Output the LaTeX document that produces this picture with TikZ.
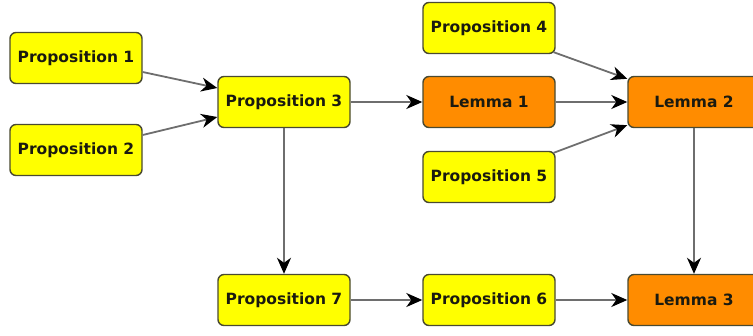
\documentclass[tikz,border=0pt]{standalone}
\usepackage{fontspec}
\setmainfont{DejaVu Sans}
\usetikzlibrary{arrows.meta}
\definecolor{propyellow}{HTML}{FFFF00}
\definecolor{lemorange}{HTML}{FF8C00}
\definecolor{boxborder}{HTML}{4A4A30}
\definecolor{linegray}{HTML}{6E6E6E}
\definecolor{txt}{HTML}{1A1A10}
\tikzset{
  box/.style={draw=boxborder, line width=1.4pt, rounded corners=6pt,
    minimum width=132pt, minimum height=51pt, inner sep=0pt,
    font=\fontsize{15.5}{18}\selectfont\bfseries, text=txt},
  prop/.style={box, fill=propyellow},
  lem/.style={box, fill=lemorange},
  conn/.style={draw=linegray, line width=1.8pt,
    -{Stealth[length=16pt,width=14pt,inset=5pt,black]}}
}
\begin{document}
\begin{tikzpicture}[x=1pt,y=-1pt]
\useasboundingbox (0,0) rectangle (753,335);
\clip (0,0) rectangle (753,335);
\node[prop] (p1) at (76,58) {Proposition 1};
\node[prop] (p2) at (76,150) {Proposition 2};
\node[prop] (p3) at (284,102) {Proposition 3};
\node[prop] (p4) at (489,28) {Proposition 4};
\node[lem]  (l1) at (489,102) {Lemma 1};
\node[prop] (p5) at (489,177) {Proposition 5};
\node[lem]  (l2) at (694,102) {Lemma 2};
\node[prop] (p7) at (284,300) {Proposition 7};
\node[prop] (p6) at (489,300) {Proposition 6};
\node[lem]  (l3) at (694,300) {Lemma 3};
\draw[conn] ([yshift=-14pt]p1.east) -- ([yshift=14pt]p3.west);
\draw[conn] ([yshift=15pt]p2.east) -- ([yshift=-15pt]p3.west);
\draw[conn] (p3.east) -- (l1.west);
\draw[conn] (l1.east) -- (l2.west);
\draw[conn] ([xshift=-2pt,yshift=2pt]p4.south east) -- ([yshift=-3pt]l2.north west);
\draw[conn] ([xshift=-2pt,yshift=-2pt]p5.north east) -- ([yshift=3pt]l2.south west);
\draw[conn] (l2.south) -- (l3.north);
\draw[conn] (p3.south) -- (p7.north);
\draw[conn] (p7.east) -- (p6.west);
\draw[conn] (p6.east) -- (l3.west);
\end{tikzpicture}
\end{document}
